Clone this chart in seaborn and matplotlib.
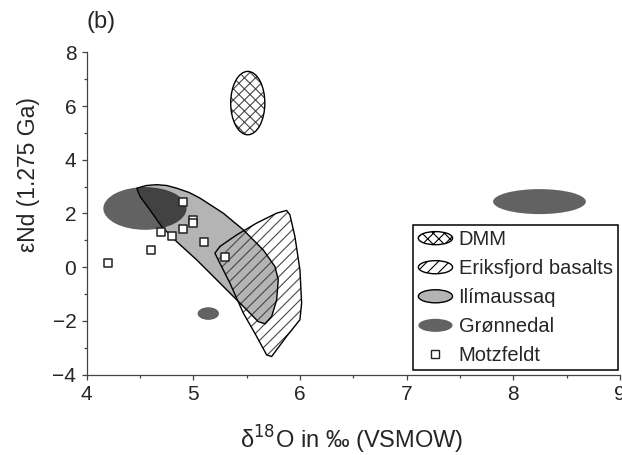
import matplotlib
matplotlib.use("Agg")
import matplotlib.pyplot as plt
import numpy as np
import pandas as pd
import seaborn as sns
from matplotlib.patches import Ellipse, Polygon
from matplotlib.legend_handler import HandlerPatch
from matplotlib.lines import Line2D
from matplotlib.ticker import MultipleLocator

# Motzfeldt samples (d18O, eNd)
motz_d18o = [4.90, 5.00, 5.00, 4.90, 4.70, 4.80, 5.10, 4.60, 4.20, 5.30]
motz_end = [2.41, 1.76, 1.64, 1.42, 1.30, 1.17, 0.93, 0.62, 0.17, 0.36]

# ellipse fields: centre x, centre y, width, height
dmm_ell = (5.51, 6.11, 0.32, 2.36)
gron_ells = [(4.546, 2.185, 0.78, 1.59),
             (5.14, -1.73, 0.20, 0.47),
             (8.245, 2.44, 0.87, 0.93)]

# Ilimaussaq field outline
ilim_x = [4.469, 4.560, 4.656, 4.750, 4.843, 4.960, 5.062, 5.280, 5.468, 5.655, 5.765, 5.796, 5.781,
          5.734, 5.671, 5.608, 5.500, 5.374, 5.218, 5.031, 4.843, 4.703, 4.593, 4.500]
ilim_y = [2.94, 3.04, 3.07, 3.04, 2.94, 2.78, 2.57, 2.01, 1.39, 0.64, 0.02, -0.47, -1.22,
          -1.84, -2.11, -2.03, -1.59, -1.09, -0.47, 0.27, 0.95, 1.51, 2.13, 2.63]

# Eriksfjord basalts field outline
erik_x = [5.874, 5.905, 5.952, 5.999, 6.015, 5.999, 5.874, 5.734, 5.687, 5.593,
          5.468, 5.343, 5.233, 5.202, 5.249, 5.406, 5.593, 5.781]
erik_y = [2.11, 1.95, 1.14, -0.10, -1.34, -1.96, -2.58, -3.33, -3.27, -2.58,
          -1.71, -0.60, 0.27, 0.52, 0.77, 1.20, 1.64, 2.01]

labels = ["DMM", "Eriksfjord basalts", "Ilímaussaq", "Grønnedal", "Motzfeldt"]

sns.set_style("ticks")
plt.rcParams['font.family'] = ['Liberation Sans', 'DejaVu Sans']
plt.rcParams['hatch.linewidth'] = 0.8

GRON = '#626262'
ILIM = '#b4b4b4'

fig = plt.figure(figsize=(6.22, 4.55), dpi=100)
ax = fig.add_axes([0.1394, 0.1769, 0.9968 - 0.1394, 0.885 - 0.1769])

# Grønnedal fields
for cx, cy, w, h in gron_ells:
    ax.add_patch(Ellipse((cx, cy), w, h, facecolor=GRON, edgecolor='none', zorder=1))

# Ilimaussaq field
ilim_xy = np.column_stack([ilim_x, ilim_y])
ilim = Polygon(ilim_xy, closed=True, facecolor=ILIM, edgecolor='none', zorder=2)
ax.add_patch(ilim)
# overlap of Grønnedal with Ilimaussaq appears darker
cx, cy, w, h = gron_ells[0]
ov = Ellipse((cx, cy), w, h, facecolor='#424242', edgecolor='none', zorder=2.5)
ax.add_patch(ov)
ov.set_clip_path(ilim)

# Eriksfjord basalts field (hatch, then outline)
erik_xy = np.column_stack([erik_x, erik_y])
ax.add_patch(Polygon(erik_xy, closed=True, facecolor='none', edgecolor='#484848',
                     hatch='///', linewidth=0, zorder=3))
ax.add_patch(Polygon(erik_xy, closed=True, facecolor='none', edgecolor='black',
                     linewidth=1.0, zorder=3.5))
ax.add_patch(Polygon(ilim_xy, closed=True, facecolor='none', edgecolor='black',
                     linewidth=1.0, zorder=3.6))

# DMM
cx, cy, w, h = dmm_ell
ax.add_patch(Ellipse((cx, cy), w, h, facecolor='white', edgecolor='#484848',
                     hatch='xxx', linewidth=0, zorder=3))
ax.add_patch(Ellipse((cx, cy), w, h, facecolor='none', edgecolor='black',
                     linewidth=1.0, zorder=3.5))

# Motzfeldt samples
df = pd.DataFrame({'d18O': motz_d18o, 'eNd': motz_end})
sns.scatterplot(data=df, x='d18O', y='eNd', marker='s', s=28, color='white',
                edgecolor='#222222', linewidth=1.1, zorder=5, ax=ax, legend=False)

ax.set_xlim(4, 9)
ax.set_ylim(-4, 8)
ax.xaxis.set_major_locator(MultipleLocator(1))
ax.xaxis.set_minor_locator(MultipleLocator(0.5))
ax.yaxis.set_major_locator(MultipleLocator(2))
ax.yaxis.set_minor_locator(MultipleLocator(1))
ax.tick_params(which='major', direction='out', length=3.5, width=0.9,
               color='#444444', labelsize=15, pad=4)
ax.tick_params(which='minor', direction='out', length=2.2, width=0.9, color='#444444')
for s in ['left', 'bottom']:
    ax.spines[s].set_color('#444444')
    ax.spines[s].set_linewidth(0.9)
sns.despine(ax=ax)

ax.set_xlabel('δ$^{18}$O in ‰ (VSMOW)', fontsize=17)
ax.xaxis.set_label_coords(0.497, -0.152)
ax.set_ylabel('εNd (1.275 Ga)', fontsize=16.5)
ax.yaxis.set_label_coords(-0.088, 0.62)
fig.text(87 / 622, 1 - 22 / 455, '(b)', fontsize=17, va='center', ha='left')


class HandlerEllipse(HandlerPatch):
    def create_artists(self, legend, orig_handle, xdescent, ydescent,
                       width, height, fontsize, trans):
        center = 0.5 * width - 0.5 * xdescent, 0.5 * height - 0.5 * ydescent
        p = Ellipse(xy=center, width=width + xdescent, height=height + ydescent)
        self.update_prop(p, orig_handle, legend)
        p.set_transform(trans)
        return [p]


h_dmm = Ellipse((0, 0), 1, 1, facecolor='white', edgecolor='black', hatch='xxx', linewidth=1.0)
h_erik = Ellipse((0, 0), 1, 1, facecolor='white', edgecolor='black', hatch='///', linewidth=1.0)
h_ilim = Ellipse((0, 0), 1, 1, facecolor=ILIM, edgecolor='black', linewidth=1.0)
h_gron = Ellipse((0, 0), 1, 1, facecolor=GRON, edgecolor='none')
h_motz = Line2D([], [], linestyle='none', marker='s', markersize=5.5,
                markerfacecolor='white', markeredgecolor='#222222', markeredgewidth=1.0)

leg = fig.legend([h_dmm, h_erik, h_ilim, h_gron, h_motz], labels,
                 loc='upper left', bbox_to_anchor=(413.3 / 622, 1 - 225 / 455),
                 bbox_transform=fig.transFigure, fontsize=14.5,
                 handler_map={Ellipse: HandlerEllipse()},
                 handlelength=1.7, handleheight=0.65, handletextpad=0.3,
                 labelspacing=0.5, borderpad=0.25, borderaxespad=0,
                 fancybox=False, framealpha=1, edgecolor='black')
leg.get_frame().set_linewidth(1.1)

fig.savefig('out.png', dpi=100)
